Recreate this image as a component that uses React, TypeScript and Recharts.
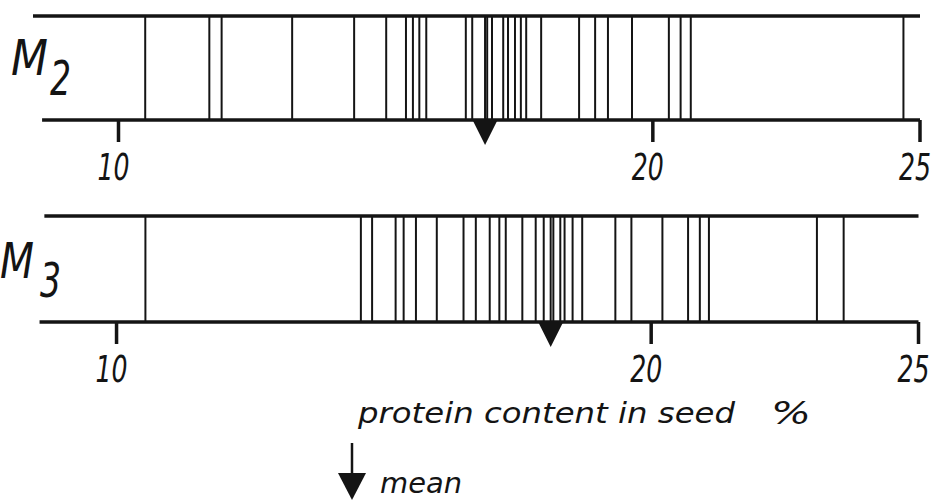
import React from "react";
import { ScatterChart, Scatter, XAxis, YAxis, ReferenceLine } from "recharts";

// Protein content (% of seed) of individual lines, per generation
const M2_VALUES = [
  10.5, 11.7, 11.93, 13.25, 14.41, 15.01, 15.38, 15.51, 15.63, 15.76, 16.5, 16.62,
  16.86, 16.9, 16.99, 17.2, 17.29, 17.42, 17.53, 17.63, 17.91, 18.62, 18.92, 19.16,
  19.61, 20.3, 20.52, 20.71, 24.69,
];
const M3_VALUES = [
  10.54, 14.57, 14.78, 15.22, 15.37, 15.6, 15.99, 16.49, 16.72, 16.98, 17.16, 17.28,
  17.59, 17.84, 17.99, 18.12, 18.17, 18.3, 18.38, 18.53, 18.71, 19.33, 19.63, 20.21,
  20.69, 20.91, 21.08, 23.1, 23.6,
];
const M2_MEAN = 16.86;
const M3_MEAN = 18.12;

const AXIS_TICKS = [10, 20, 25];
const AXIS_DOMAIN: [number, number] = [8.4, 25];
const AXIS_TITLE = "protein content in seed";
const AXIS_UNIT = "%";
const MEAN_LABEL = "mean";

const INK = "#141414";
const FONT = "'DejaVu Sans', 'Liberation Sans', sans-serif";

const TickLabel = (props: any) => {
  const { x, y, payload } = props;
  return (
    <text
      x={x - 5}
      y={y + 36}
      textAnchor="middle"
      fontFamily={FONT}
      fontStyle="italic"
      fontSize={38}
      fill={INK}
      textLength={32}
      lengthAdjust="spacingAndGlyphs"
    >
      {payload.value}
    </text>
  );
};

const MeanMarker = (props: any) => {
  const { cx, cy } = props;
  if (cx == null || cy == null) return null;
  return (
    <path
      d={`M${cx - 12},${cy + 1} L${cx + 12},${cy + 1} L${cx},${cy + 25} Z`}
      fill={INK}
    />
  );
};

type StripProps = {
  values: number[];
  mean: number;
  top: number;
  left: number;
  right: number;
  plotTop: number;
  plotHeight: number;
  topRuleStart: number;
  bottomRuleStart: number;
};

function Strip({ values, mean, top, left, right, plotTop, plotHeight, topRuleStart, bottomRuleStart }: StripProps) {
  const axisHeight = 80;
  return (
    <div style={{ position: "absolute", left: 0, top }}>
      <ScatterChart
        width={945}
        height={plotTop + plotHeight + axisHeight}
        margin={{ top: plotTop, right, bottom: 0, left }}
        style={{ overflow: "visible" }}
      >
        <XAxis
          type="number"
          dataKey="x"
          domain={AXIS_DOMAIN}
          ticks={AXIS_TICKS}
          interval={0}
          allowDataOverflow
          axisLine={false}
          stroke={INK}
          tickLine={{ stroke: INK, strokeWidth: 3.5 }}
          tickSize={22}
          height={axisHeight}
          tick={<TickLabel />}
        />
        <YAxis type="number" dataKey="y" domain={[0, 1]} hide />
        {values.map((v, i) => (
          <ReferenceLine key={i} x={v} stroke={INK} strokeWidth={2} />
        ))}
        <ReferenceLine
          segment={[{ x: topRuleStart, y: 1 }, { x: 25, y: 1 }]}
          stroke={INK}
          strokeWidth={3.5}
        />
        <ReferenceLine
          segment={[{ x: bottomRuleStart, y: 0 }, { x: 25, y: 0 }]}
          stroke={INK}
          strokeWidth={3.5}
        />
        <Scatter data={[{ x: mean, y: 0 }]} shape={<MeanMarker />} isAnimationActive={false} />
      </ScatterChart>
    </div>
  );
}

export default function App() {
  return (
    <div style={{ position: "absolute", left: 0, top: 0, width: 945, height: 504, background: "#fff" }}>
      <Strip
        values={M2_VALUES}
        mean={M2_MEAN}
        top={0}
        left={33}
        right={25}
        plotTop={16}
        plotHeight={104}
        topRuleStart={8.4}
        bottomRuleStart={8.57}
      />
      <Strip
        values={M3_VALUES}
        mean={M3_MEAN}
        top={200}
        left={31}
        right={26.5}
        plotTop={16}
        plotHeight={106}
        topRuleStart={8.65}
        bottomRuleStart={8.56}
      />
      <svg
        width={945}
        height={504}
        style={{ position: "absolute", left: 0, top: 0, pointerEvents: "none" }}
        fontFamily={FONT}
        fontStyle="italic"
        fill={INK}
      >
        <text x={11} y={75} fontSize={50} textLength={37} lengthAdjust="spacingAndGlyphs">M</text>
        <text x={50} y={95} fontSize={48} textLength={21} lengthAdjust="spacingAndGlyphs">2</text>
        <text x={0} y={278} fontSize={50} textLength={34} lengthAdjust="spacingAndGlyphs">M</text>
        <text x={40} y={297} fontSize={48} textLength={21} lengthAdjust="spacingAndGlyphs">3</text>

        <text x={358} y={423} fontSize={29} textLength={377} lengthAdjust="spacingAndGlyphs">
          {AXIS_TITLE}
        </text>
        <text x={771} y={424} fontSize={32} textLength={40} lengthAdjust="spacingAndGlyphs">
          {AXIS_UNIT}
        </text>

        <line x1={352} y1={443} x2={352} y2={475} stroke={INK} strokeWidth={2.5} />
        <path d="M338,473 L366,473 L352,500 Z" fill={INK} />
        <text x={380} y={493} fontSize={29} textLength={82} lengthAdjust="spacingAndGlyphs">
          {MEAN_LABEL}
        </text>
      </svg>
    </div>
  );
}
